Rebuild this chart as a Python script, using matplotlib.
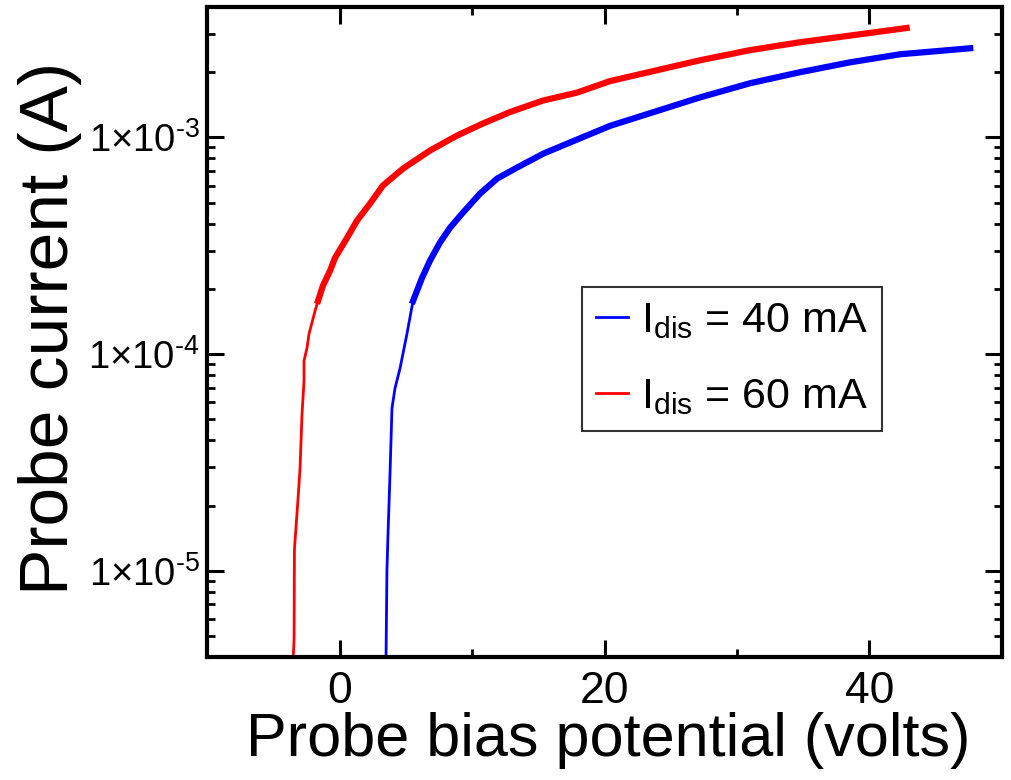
import math
import matplotlib
matplotlib.use("Agg")
import matplotlib.pyplot as plt
from matplotlib.ticker import FixedLocator, LogLocator, NullFormatter, FuncFormatter

plt.rcParams['font.family'] = ['Liberation Sans', 'DejaVu Sans']
plt.rcParams['mathtext.fontset'] = 'custom'
plt.rcParams['mathtext.rm'] = 'Liberation Sans'
plt.rcParams['mathtext.default'] = 'regular'

# probe bias (V) and probe current (A)
v_40 = [3.51, 3.58, 3.66, 3.81, 3.96, 4.19, 4.57, 5.09, 5.55, 6.23, 6.83, 7.58,
        8.34, 9.32, 10.6, 11.9, 13.4, 15.4, 17.4, 20.4, 27.2, 31.0, 34.75, 38.5,
        42.3, 47.6]
i_40 = [3.9e-6, 1.0e-5, 1.47e-5, 2.78e-5, 5.62e-5, 6.96e-5, 8.61e-5, 1.24e-4,
        1.76e-4, 2.25e-4, 2.70e-4, 3.27e-4, 3.83e-4, 4.50e-4, 5.50e-4, 6.46e-4,
        7.26e-4, 8.43e-4, 9.48e-4, 1.13e-3, 1.53e-3, 1.78e-3, 2.0e-3, 2.22e-3,
        2.42e-3, 2.58e-3]

v_60 = [-3.5, -3.43, -3.40, -3.13, -2.98, -2.83, -2.68, -2.68, -2.45, -2.30,
        -1.85, -1.62, -1.25, -0.72, -0.34, 0.57, 1.32, 2.30, 3.28, 4.79, 6.83,
        8.87, 10.83, 12.87, 15.36, 17.92, 20.42, 27.2, 31.0, 34.75, 38.5, 42.8]
i_60 = [3.9e-6, 4.8e-6, 1.26e-5, 2.15e-5, 2.96e-5, 5.27e-5, 7.5e-5, 9.3e-5,
        1.07e-4, 1.24e-4, 1.58e-4, 1.76e-4, 2.07e-4, 2.42e-4, 2.78e-4, 3.44e-4,
        4.13e-4, 4.95e-4, 6.0e-4, 7.18e-4, 8.7e-4, 1.02e-3, 1.16e-3, 1.31e-3,
        1.48e-3, 1.61e-3, 1.82e-3, 2.27e-3, 2.53e-3, 2.75e-3, 2.95e-3, 3.2e-3]

labels = ['I$_{dis}$ = 40 mA', 'I$_{dis}$ = 60 mA']
x_major = [0, 20, 40]
x_minor = [-10, 10, 30, 50]

fig = plt.figure(figsize=(10.11, 7.80), dpi=100)
ax = fig.add_axes([207 / 1011, 1 - 657 / 780, 795 / 1011, 650 / 780])

# thin trace at low current, noisier (thicker looking) trace above
ax.plot(v_40, i_40, color='#0000ff', lw=2, label=labels[0])
ax.plot(v_40[8:], i_40[8:], color='#0000ff', lw=4.5)
ax.plot(v_60, i_60, color='#ff0000', lw=2, label=labels[1])
ax.plot(v_60[11:], i_60[11:], color='#ff0000', lw=4.5)

ax.set_yscale('log')
ax.set_xlim(-10, 50)
ax.set_ylim(4e-6, 4e-3)

ax.xaxis.set_major_locator(FixedLocator(x_major))
ax.xaxis.set_minor_locator(FixedLocator(x_minor))
ax.yaxis.set_major_locator(LogLocator(base=10))
ax.yaxis.set_minor_locator(LogLocator(base=10, subs=range(2, 10)))
ax.yaxis.set_minor_formatter(NullFormatter())


def sci(val, pos):
    exp = int(round(math.log10(val)))
    return '1×10$^{\u2010%d}$' % abs(exp)


ax.yaxis.set_major_formatter(FuncFormatter(sci))

ax.tick_params(which='both', direction='in', top=True, right=True)
ax.tick_params(which='major', length=12, width=2.2)
ax.tick_params(which='minor', length=6, width=2)
ax.tick_params(axis='x', labelsize=32, pad=10)
ax.tick_params(axis='y', labelsize=27.5, pad=5)
for s in ax.spines.values():
    s.set_linewidth(3)

ax.set_xlabel('Probe bias potential (volts)', fontsize=44)
ax.set_ylabel('Probe current (A)', fontsize=50)
ax.xaxis.set_label_coords(0.505, -0.085)
ax.yaxis.set_label_coords(-0.157, 0.506)

leg = ax.legend(loc='upper left', bbox_to_anchor=(0.472, 0.569), fontsize=31,
                frameon=True, fancybox=False, edgecolor='black',
                handlelength=0.75, handletextpad=0.3, borderpad=0.32,
                labelspacing=0.85, borderaxespad=0)
leg.get_frame().set_linewidth(1.5)
for h in leg.get_lines():
    h.set_linewidth(2)

fig.savefig('out.png', dpi=100)
